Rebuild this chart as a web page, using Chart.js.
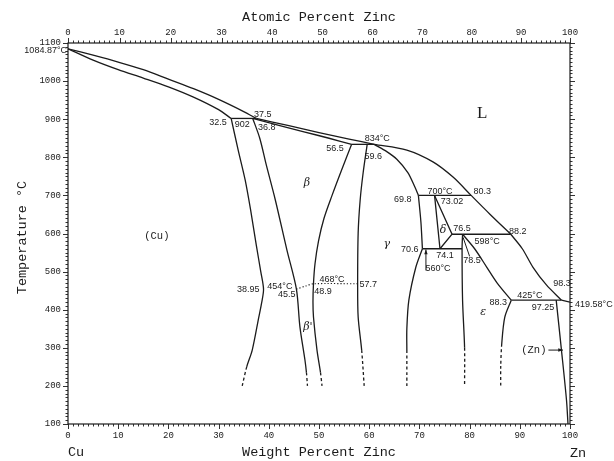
<!DOCTYPE html>
<html>
<head>
<meta charset="utf-8">
<script src="https://cdn.jsdelivr.net/npm/chart.js@4.4.0/dist/chart.umd.min.js"></script>
<style>
  html, body { margin: 0; padding: 0; background: #fff; }
  #wrap { width: 614px; height: 461px; }
</style>
</head>
<body>
<div id="wrap"><canvas id="cuzn" width="614" height="461"></canvas></div>
<script>
// axis ticks
const WT_TICKS = [0, 10, 20, 30, 40, 50, 60, 70, 80, 90, 100];
const AT_TICKS = [0, 10, 20, 30, 40, 50, 60, 70, 80, 90, 100];
const T_TICKS  = [100, 200, 300, 400, 500, 600, 700, 800, 900, 1000, 1100];

// phase boundaries, [weight % Zn, temperature °C]
const liquidusCu   = [[0, 1084.87], [5, 1068], [10, 1050], [15, 1030], [20, 1005], [25, 980], [30, 952], [35, 920], [37.5, 902]];
const solidusCu    = [[0, 1084.87], [5, 1055], [10, 1030], [15, 1008], [20, 985], [25, 958], [30, 925], [32.5, 902]];
const iso902       = [[32.5, 902], [37.5, 902]];
const liquidusBeta = [[37.5, 902], [44, 883], [50, 865], [56, 848], [61, 834]];
const solidusBeta  = [[36.8, 902], [42, 884], [47, 867], [52, 850], [56.5, 834]];
const iso834       = [[56.5, 834], [61, 834]];
const solidusGamma = [[61, 834], [63.5, 815], [65.5, 795], [67.7, 760], [69.1, 722], [69.8, 700]];
const liquidusGamma = [[61, 834], [67.5, 819], [72.7, 788], [76.7, 748], [80.3, 700], [84.1, 650], [88.2, 598]];
const liquidusEps  = [[88.2, 598], [90.5, 560], [92.6, 512], [95.3, 465], [98.3, 425]];
const liquidusZn   = [[98.3, 425], [100, 419.58]];
const iso700       = [[69.8, 700], [80.3, 700]];
const deltaLeft    = [[73.02, 700], [74.1, 560]];
const deltaRight   = [[73.02, 700], [76.5, 598], [74.1, 560]];
const iso598       = [[76.5, 598], [88.2, 598]];
const iso560       = [[70.6, 560], [78.5, 560]];
const iso425       = [[88.3, 425], [98.3, 425]];
const gammaRightHi = [[69.8, 700], [70.3, 630], [70.6, 560]];
const gammaRightLo = [[70.6, 560], [69.3, 512], [67.9, 425], [67.5, 350], [67.5, 294], [67.5, 200]];
const epsLeft      = [[78.6, 598], [78.5, 560], [78.6, 425], [79.0, 300], [79.0, 200]];
const epsSolidus   = [[78.6, 598], [81, 560], [83.4, 512], [85.5, 470], [88.3, 425]];
const epsRight     = [[88.3, 425], [87.0, 380], [86.4, 310], [86.2, 250], [86.2, 200]];
const znSolvus     = [[97.25, 425], [98.3, 294], [99.3, 163], [99.6, 100]];
const alphaSolvus  = [[32.5, 902], [33.9, 819], [35.3, 740], [36.4, 660], [37.5, 570], [38.4, 500], [38.95, 454], [38.6, 420], [38.0, 380], [36.7, 294], [35.6, 250], [34.7, 200]];
const betaLeft     = [[36.8, 902], [38.2, 850], [39.5, 780], [41.3, 688], [43.6, 557], [45.5, 454], [46.2, 355], [47.2, 268], [47.5, 235], [47.7, 200]];
const betaRight    = [[56.5, 834], [54.6, 770], [52.6, 700], [51.0, 640], [49.9, 580], [49.2, 520], [48.9, 468], [48.8, 420], [48.9, 381], [49.6, 294], [50.3, 235], [50.6, 200]];
const gammaLeft    = [[59.6, 834], [58.8, 760], [58.2, 688], [57.8, 601], [57.7, 468], [57.8, 381], [58.5, 294], [59.0, 200]];
const orderLine    = [[45.5, 454], [47.3, 462], [48.9, 468], [57.7, 468]];

// text placed in the diagram: [text, wt %, °C]
const NUM_LABELS = [
  ['32.5', 29.9, 890], ['902', 34.7, 885], ['37.5', 38.8, 911], ['36.8', 39.6, 877],
  ['56.5', 53.2, 822], ['834°C', 61.6, 848], ['59.6', 60.8, 801],
  ['700°C', 74.1, 711], ['80.3', 82.5, 709], ['69.8', 66.7, 690], ['73.02', 76.5, 685],
  ['76.5', 78.5, 612], ['88.2', 89.6, 604], ['598°C', 83.5, 580],
  ['70.6', 68.1, 559], ['74.1', 75.1, 543], ['560°C', 73.7, 509], ['78.5', 80.5, 530],
  ['98.3', 98.4, 470], ['425°C', 92.0, 436], ['88.3', 85.7, 420], ['97.25', 94.6, 407],
  ['38.95', 35.9, 454], ['454°C', 42.2, 460], ['45.5', 43.6, 441],
  ['468°C', 52.6, 478], ['48.9', 50.8, 449], ['57.7', 59.8, 465],
];
const PHASE_LABELS = [
  ['β', 47.6, 732], ['γ', 63.5, 572], ['δ', 74.7, 609], ['ε', 82.7, 394], ["β'", 47.8, 354],
];

const INK = '#1b1b1b';
const MONO = '"Liberation Mono", "DejaVu Sans Mono", monospace';

function atToWt(a) {
  const zn = a * 65.38, cu = (100 - a) * 63.546;
  return 100 * zn / (zn + cu);
}

function boundary(points, opts) {
  const ds = {
    data: points.map(p => ({ x: p[0], y: p[1] })),
    showLine: true,
    borderColor: INK,
    borderWidth: 1.3,
    pointRadius: 0,
    tension: 0.3,
    fill: false,
  };
  if (opts && opts.dashBelow !== undefined) {
    const lim = opts.dashBelow;
    ds.segment = { borderDash: c => (c.p0.parsed.y <= lim ? [3, 2.5] : undefined) };
  }
  if (opts && opts.dotted) {
    ds.borderDash = [1.2, 2];
    ds.borderWidth = 1.1;
  }
  if (opts && opts.straight) ds.tension = 0;
  return ds;
}

const datasets = [
  boundary(liquidusCu), boundary(solidusCu), boundary(iso902),
  boundary(liquidusBeta), boundary(solidusBeta), boundary(iso834),
  boundary(solidusGamma), boundary(liquidusGamma), boundary(liquidusEps), boundary(liquidusZn),
  boundary(iso700), boundary(deltaLeft), boundary(deltaRight, { straight: true }),
  boundary(iso598), boundary(iso560), boundary(iso425),
  boundary(gammaRightHi), boundary(gammaRightLo, { dashBelow: 294 }),
  boundary(epsLeft, { dashBelow: 300 }), boundary(epsSolidus), boundary(epsRight, { dashBelow: 310 }),
  boundary(znSolvus),
  boundary(alphaSolvus, { dashBelow: 250 }),
  boundary(betaLeft, { dashBelow: 235 }),
  boundary(betaRight, { dashBelow: 235 }),
  boundary(gammaLeft, { dashBelow: 294 }),
  boundary(orderLine, { dotted: true }),
];

function arrow(ctx, x1, y1, x2, y2) {
  const ang = Math.atan2(y2 - y1, x2 - x1);
  ctx.beginPath();
  ctx.moveTo(x1, y1);
  ctx.lineTo(x2, y2);
  ctx.stroke();
  ctx.beginPath();
  ctx.moveTo(x2, y2);
  ctx.lineTo(x2 - 5 * Math.cos(ang - 0.35), y2 - 5 * Math.sin(ang - 0.35));
  ctx.lineTo(x2 - 5 * Math.cos(ang + 0.35), y2 - 5 * Math.sin(ang + 0.35));
  ctx.closePath();
  ctx.fill();
}

const decor = {
  id: 'decor',
  afterDraw(chart) {
    const { ctx, chartArea: a, scales: { x, y } } = chart;
    const px = v => x.getPixelForValue(v);
    const py = v => y.getPixelForValue(v);
    ctx.save();
    ctx.strokeStyle = INK;
    ctx.fillStyle = INK;

    // frame and tick marks
    ctx.lineWidth = 1.2;
    ctx.strokeRect(a.left, a.top, a.right - a.left, a.bottom - a.top);
    ctx.lineWidth = 0.9;
    ctx.beginPath();
    for (let w = 0; w <= 100; w++) {
      const X = Math.round(px(w)) + 0.5, L = w % 10 === 0 ? 5 : 2.5;
      ctx.moveTo(X, a.bottom); ctx.lineTo(X, a.bottom + L);
    }
    for (let at = 0; at <= 100; at++) {
      const X = Math.round(px(atToWt(at))) + 0.5, L = at % 10 === 0 ? 5 : 2.5;
      ctx.moveTo(X, a.top); ctx.lineTo(X, a.top - L);
    }
    for (let t = 100; t <= 1100; t += 10) {
      const Y = Math.round(py(t)) + 0.5, L = t % 100 === 0 ? 5 : 2.5;
      ctx.moveTo(a.left, Y); ctx.lineTo(a.left - L, Y);
      ctx.moveTo(a.right, Y); ctx.lineTo(a.right + L, Y);
    }
    ctx.stroke();

    // axis titles
    ctx.textBaseline = 'middle';
    ctx.font = '13.5px ' + MONO;
    ctx.textAlign = 'center';
    const mid = (a.left + a.right) / 2;
    ctx.fillText('Atomic Percent Zinc', mid, 17);
    ctx.fillText('Weight Percent Zinc', mid, a.bottom + 28);
    ctx.textAlign = 'left';
    ctx.fillText('Cu', a.left, a.bottom + 28);
    ctx.fillText('Zn', a.right, a.bottom + 29);
    ctx.save();
    ctx.translate(22, (a.top + a.bottom) / 2 + 4);
    ctx.rotate(-Math.PI / 2);
    ctx.textAlign = 'center';
    ctx.fillText('Temperature °C', 0, 0);
    ctx.restore();

    // melting points outside the frame
    ctx.font = '9px "Liberation Sans", Arial, sans-serif';
    ctx.textAlign = 'right';
    ctx.fillText('1084.87°C', a.left - 1, py(1084.87) + 1.5);
    ctx.textAlign = 'left';
    ctx.fillText('419.58°C', a.right + 5, py(419.58) + 2);

    // compositions and temperatures
    ctx.textAlign = 'center';
    NUM_LABELS.forEach(([s, w, t]) => ctx.fillText(s, px(w), py(t)));

    // phase names
    ctx.font = 'italic 11px "DejaVu Serif", "Liberation Serif", serif';
    PHASE_LABELS.forEach(([s, w, t]) => ctx.fillText(s, px(w), py(t)));
    ctx.font = '10.5px ' + MONO;
    ctx.fillText('(Cu)', px(17.7), py(593));
    ctx.fillText('(Zn)', px(92.8), py(294));
    ctx.font = '17px "Liberation Serif", serif';
    ctx.fillText('L', px(82.5), py(916));

    // arrows and leader
    ctx.lineWidth = 1;
    arrow(ctx, px(71.3), py(503), px(71.3), py(558));
    arrow(ctx, px(95.7), py(294), px(98.6), py(294));
    ctx.beginPath();
    ctx.moveTo(px(78.7), py(590));
    ctx.lineTo(px(80.0), py(540));
    ctx.stroke();
    ctx.restore();
  }
};

const tickFont = { family: MONO, size: 9 };

new Chart(document.getElementById('cuzn').getContext('2d'), {
  type: 'scatter',
  data: { datasets },
  options: {
    responsive: false,
    devicePixelRatio: 1,
    animation: false,
    layout: { padding: { left: 0, right: 44, top: 0, bottom: 0 } },
    plugins: { legend: { display: false }, tooltip: { enabled: false } },
    scales: {
      x: {
        type: 'linear', position: 'bottom', min: 0, max: 100,
        afterBuildTicks: s => { s.ticks = WT_TICKS.map(v => ({ value: v })); },
        ticks: { font: tickFont, color: INK, padding: 6, maxRotation: 0, autoSkip: false,
                 callback: (v, i) => String(WT_TICKS[i]) },
        grid: { display: false, drawTicks: false },
        border: { display: false },
        afterFit: s => { s.height = 37; },
      },
      x2: {
        type: 'linear', position: 'top', min: 0, max: 100,
        afterBuildTicks: s => { s.ticks = AT_TICKS.map(v => ({ value: atToWt(v) })); },
        ticks: { font: tickFont, color: INK, padding: 5, maxRotation: 0, autoSkip: false,
                 callback: (v, i) => String(AT_TICKS[i]) },
        grid: { display: false, drawTicks: false },
        border: { display: false },
        afterFit: s => { s.height = 43; },
      },
      y: {
        type: 'linear', min: 100, max: 1100,
        afterBuildTicks: s => { s.ticks = T_TICKS.map(v => ({ value: v })); },
        ticks: { font: tickFont, color: INK, padding: 7, autoSkip: false,
                 callback: (v, i) => String(T_TICKS[i]) },
        grid: { display: false, drawTicks: false },
        border: { display: false },
        afterFit: s => { s.width = 68; },
      },
    },
  },
  plugins: [decor],
});
</script>
</body>
</html>
